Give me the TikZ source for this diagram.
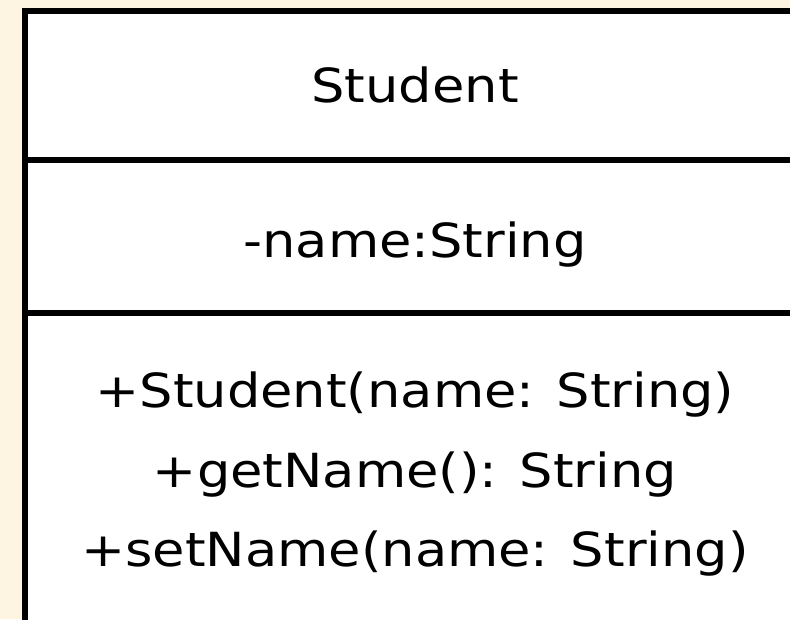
\documentclass[tikz,border=0pt]{standalone}
\usepackage{fontspec}
\setmainfont{DejaVu Sans}[FakeStretch=1.12]
\usetikzlibrary{positioning}
\definecolor{paper}{HTML}{FDF5E2}
\tikzstyle{frame}=[draw=black,line width=6pt,fill=white]
\tikzstyle{divider}=[draw=black,line width=6pt]
\tikzstyle{member}=[inner sep=0pt,anchor=base,
font=\fontsize{47}{55}\selectfont]

\begin{document}
\begin{tikzpicture}[x=1pt,y=-1pt]
            \fill[paper] (0,0) rectangle (790,619);
            \useasboundingbox (0,0) rectangle (790,619);

            % CLASS BOX
            \draw[frame] (24.5,10.5) rectangle (830,622.5);
            \coordinate (d1l) at (24.5,160);
            \coordinate (d1r) at (830,160);
            \coordinate (d2l) at (24.5,312.5);
            \coordinate (d2r) at (830,312.5);
            \draw[divider] (d1l) -- (d1r);
            \draw[divider] (d2l) -- (d2r);

            % NAME PART
            \node[member] (cname) at (415,102) {Student};

            % ATTRIBUTE PART
            \node[member] (a1) at (415,257) {-name:String};

            % OPERATION PART
            \node[member] (o1) at (415,407) {+Student(name: String)};
            \node[member] (o2) at (415,487) {+getName(): String};
            \node[member] (o3) at (415,566) {+setName(name: String)};
\end{tikzpicture}
\end{document}
